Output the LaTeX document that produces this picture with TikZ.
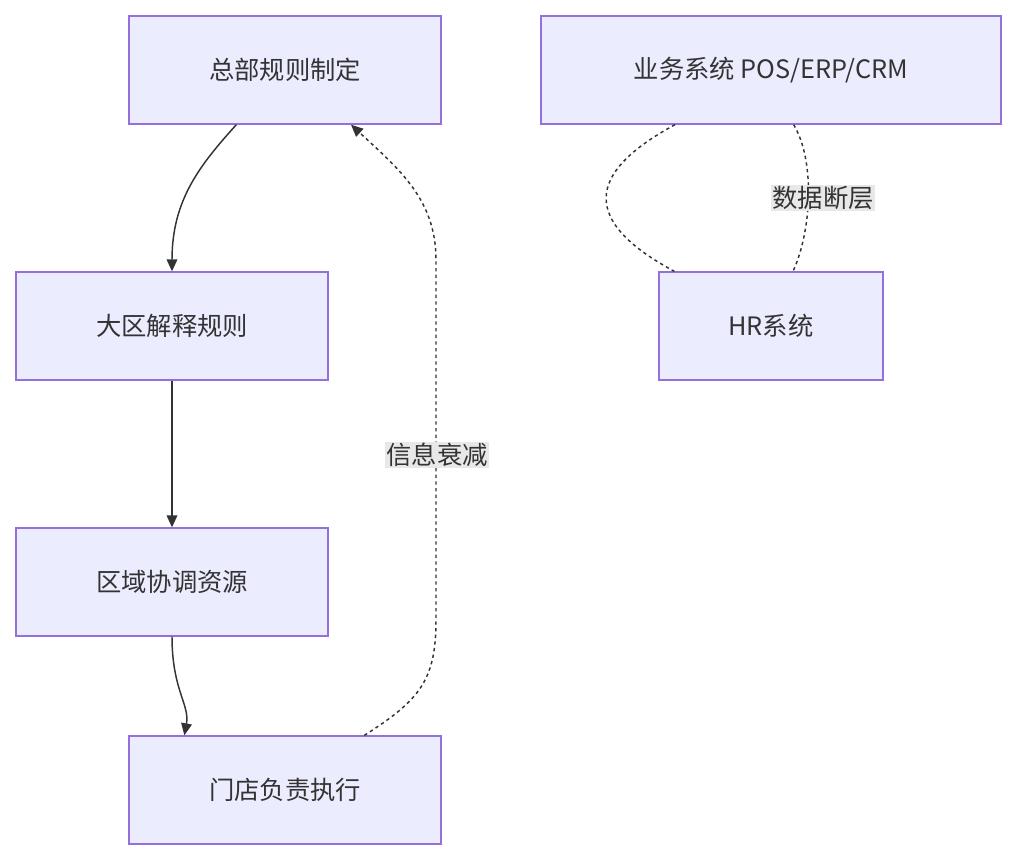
\documentclass[tikz,border=0pt]{standalone}
\usepackage{fontspec}
\setmainfont{Noto Sans CJK SC}
\usetikzlibrary{arrows.meta}
\definecolor{nf}{HTML}{ECECFF}
\definecolor{nb}{HTML}{9370DB}
\definecolor{tx}{HTML}{333333}
\definecolor{lb}{HTML}{E8E8E8}
\begin{document}
\begin{tikzpicture}[x=0.75pt,y=-0.75pt,
  box/.style={draw=nb,fill=nf,line width=1pt,text=tx,font=\fontsize{19}{22}\selectfont,inner sep=0pt,minimum height=81pt},
  ar/.style={draw=tx,line width=1.1pt,-{Triangle[length=9pt,width=8pt]}},
  dl/.style={draw=tx,line width=1.1pt,dash pattern=on 2.5pt off 2.5pt},
  lab/.style={fill=lb,text=tx,font=\fontsize{19}{22}\selectfont,inner sep=1pt}]
\useasboundingbox (0,0) rectangle (1017,860);
\node[box,minimum width=234pt] (A) at (285,70) {总部规则制定};
\node[box,minimum width=234pt] (B) at (172,326) {大区解释规则};
\node[box,minimum width=234pt] (C) at (172,582) {区域协调资源};
\node[box,minimum width=234pt] (D) at (285,790) {门店负责执行};
\node[box,minimum width=345pt] (E) at (771,70) {业务系统 POS/ERP/CRM};
\node[box,minimum width=168pt] (F) at (771,326) {HR系统};
\draw[ar] (A.south west)++(108,0) coordinate (a1) .. controls (200,165) and (172,200) .. (B.north);
\draw[ar] (B) -- (C);
\draw[ar] (C.south) .. controls (172,690) and (190,705) .. ([xshift=42pt]D.north west);
\draw[dl,-{Triangle[length=9pt,width=8pt]}] ([xshift=177pt]D.north west) .. controls (420,700) and (436,680) .. (436,620) -- (436,260) .. controls (436,200) and (400,170) .. ([xshift=167pt]A.south west);
\node[lab] (L1) at (437,455) {信息衰减};
\draw[dl] ([xshift=101pt]E.south west) .. controls (610,160) and (560,210) .. ([xshift=12pt]F.north west);
\draw[dl] ([xshift=190pt]E.south west) .. controls (815,160) and (812,230) .. ([xshift=101pt]F.north west);
\node[lab] (L2) at (823,198) {数据断层};
\end{tikzpicture}
\end{document}
